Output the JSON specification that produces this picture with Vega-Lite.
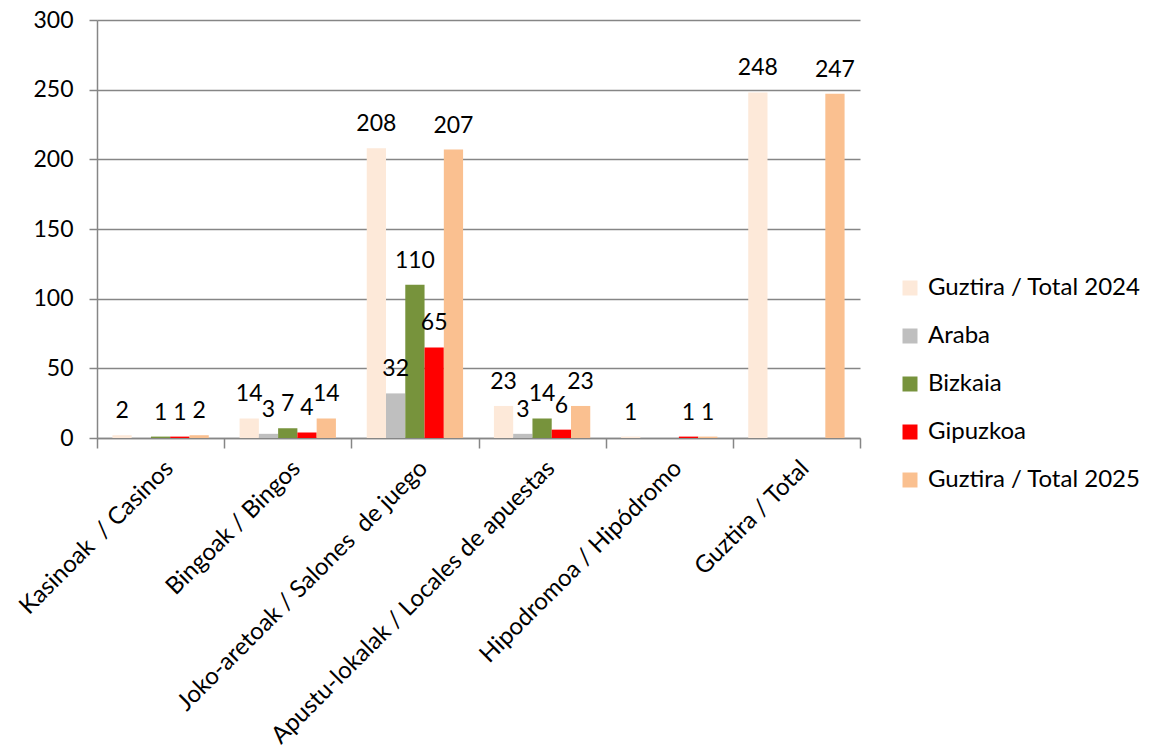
{
  "$schema": "https://vega.github.io/schema/vega-lite/v6.json",
  "width": 763,
  "height": 418,
  "autosize": {"type": "none"},
  "padding": {"left": 97, "top": 20, "right": 292, "bottom": 315},
  "config": {"font": "Lato", "view": {"stroke": null}},
  "data": {
    "values": [
      {"category": "Kasinoak\u00a0 / Casinos", "series": "Guztira / Total 2024", "value": 2},
      {"category": "Kasinoak\u00a0 / Casinos", "series": "Bizkaia", "value": 1},
      {"category": "Kasinoak\u00a0 / Casinos", "series": "Gipuzkoa", "value": 1},
      {"category": "Kasinoak\u00a0 / Casinos", "series": "Guztira / Total 2025", "value": 2},
      {"category": "Bingoak / Bingos", "series": "Guztira / Total 2024", "value": 14},
      {"category": "Bingoak / Bingos", "series": "Araba", "value": 3},
      {"category": "Bingoak / Bingos", "series": "Bizkaia", "value": 7},
      {"category": "Bingoak / Bingos", "series": "Gipuzkoa", "value": 4},
      {"category": "Bingoak / Bingos", "series": "Guztira / Total 2025", "value": 14},
      {"category": "Joko-aretoak / Salones\u00a0 de juego", "series": "Guztira / Total 2024", "value": 208},
      {"category": "Joko-aretoak / Salones\u00a0 de juego", "series": "Araba", "value": 32},
      {"category": "Joko-aretoak / Salones\u00a0 de juego", "series": "Bizkaia", "value": 110},
      {"category": "Joko-aretoak / Salones\u00a0 de juego", "series": "Gipuzkoa", "value": 65},
      {"category": "Joko-aretoak / Salones\u00a0 de juego", "series": "Guztira / Total 2025", "value": 207},
      {"category": "Apustu-lokalak / Locales de apuestas", "series": "Guztira / Total 2024", "value": 23},
      {"category": "Apustu-lokalak / Locales de apuestas", "series": "Araba", "value": 3},
      {"category": "Apustu-lokalak / Locales de apuestas", "series": "Bizkaia", "value": 14},
      {"category": "Apustu-lokalak / Locales de apuestas", "series": "Gipuzkoa", "value": 6},
      {"category": "Apustu-lokalak / Locales de apuestas", "series": "Guztira / Total 2025", "value": 23},
      {"category": "Hipodromoa / Hipódromo", "series": "Guztira / Total 2024", "value": 1},
      {"category": "Hipodromoa / Hipódromo", "series": "Gipuzkoa", "value": 1},
      {"category": "Hipodromoa / Hipódromo", "series": "Guztira / Total 2025", "value": 1},
      {"category": "Guztira / Total", "series": "Guztira / Total 2024", "value": 248},
      {"category": "Guztira / Total", "series": "Guztira / Total 2025", "value": 247}
    ]
  },
  "encoding": {
    "x": {
      "field": "category",
      "type": "nominal",
      "sort": ["Kasinoak\u00a0 / Casinos", "Bingoak / Bingos", "Joko-aretoak / Salones\u00a0 de juego", "Apustu-lokalak / Locales de apuestas", "Hipodromoa / Hipódromo", "Guztira / Total"],
      "scale": {"paddingInner": 0, "paddingOuter": 0},
      "axis": {
        "title": null,
        "labelAngle": -45,
        "labelFontSize": 24,
        "labelColor": "#000000",
        "labelLimit": 0,
        "labelPadding": 8,
        "domainColor": "#868686",
        "domainWidth": 1.5,
        "tickColor": "#868686",
        "tickWidth": 1.5,
        "tickSize": 10,
        "tickBand": "extent"
      }
    },
    "xOffset": {
      "field": "series",
      "type": "nominal",
      "sort": ["Guztira / Total 2024", "Araba", "Bizkaia", "Gipuzkoa", "Guztira / Total 2025"],
      "scale": {"paddingInner": 0, "paddingOuter": 0.8}
    },
    "y": {
      "field": "value",
      "type": "quantitative",
      "scale": {"domain": [0, 300], "nice": false},
      "axis": {
        "title": null,
        "values": [0, 50, 100, 150, 200, 250, 300],
        "grid": true,
        "gridColor": "#868686",
        "gridWidth": 1.5,
        "domainColor": "#868686",
        "domainWidth": 1.5,
        "tickColor": "#868686",
        "tickWidth": 1.5,
        "tickSize": 8,
        "labelFontSize": 23,
        "labelColor": "#000000",
        "labelPadding": 16
      }
    }
  },
  "layer": [
    {
      "mark": {"type": "bar"},
      "encoding": {
        "color": {
          "field": "series",
          "type": "nominal",
          "sort": ["Guztira / Total 2024", "Araba", "Bizkaia", "Gipuzkoa", "Guztira / Total 2025"],
          "scale": {
            "domain": ["Guztira / Total 2024", "Araba", "Bizkaia", "Gipuzkoa", "Guztira / Total 2025"],
            "range": ["#FDE9D9", "#BFBFBF", "#77933C", "#FF0000", "#FAC090"]
          },
          "legend": {
            "title": null,
            "orient": "none",
            "legendX": 801,
            "legendY": 256,
            "symbolType": "square",
            "symbolSize": 225,
            "symbolStrokeWidth": 0,
            "labelFontSize": 24,
            "labelColor": "#000000",
            "labelOffset": 6,
            "rowPadding": 24,
            "labelLimit": 0
          }
        }
      }
    },
    {
      "mark": {"type": "text", "dy": -17, "fontSize": 23, "baseline": "alphabetic", "color": "#000000"},
      "encoding": {"text": {"field": "value", "type": "quantitative"}}
    }
  ]
}
